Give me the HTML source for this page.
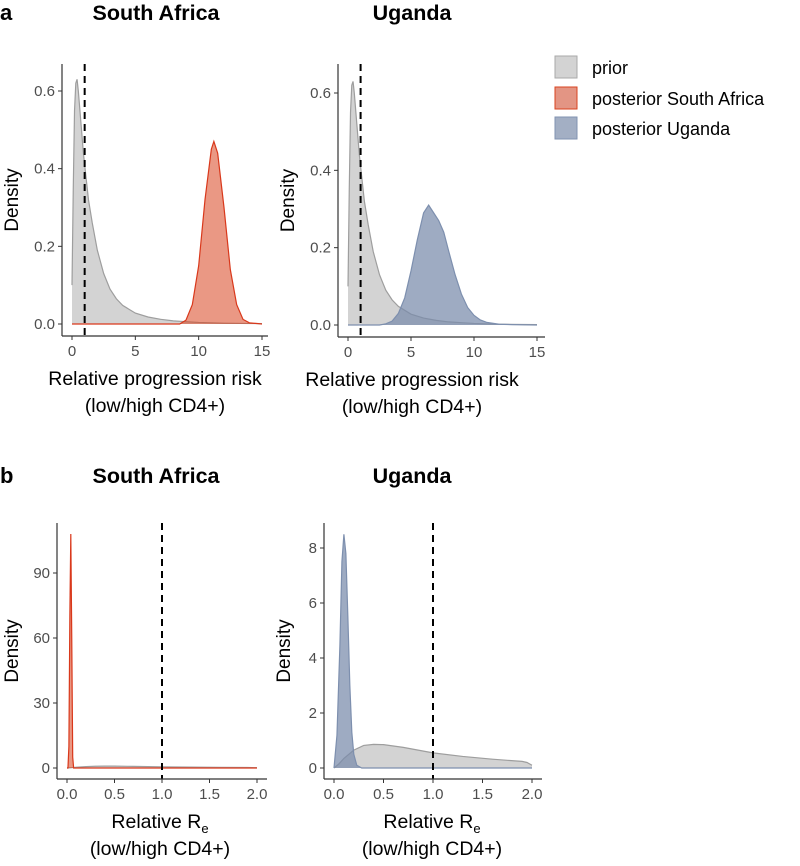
<!DOCTYPE html>
<html><head><meta charset="utf-8"><style>
body{margin:0;background:#fff;width:800px;height:861px;overflow:hidden;font-family:"Liberation Sans",Arial,sans-serif}
svg text{font-family:"Liberation Sans",Arial,sans-serif}
</style></head><body>
<svg id="fig" width="800" height="861" viewBox="0 0 800 861" xmlns="http://www.w3.org/2000/svg">
<text x="0" y="20" font-size="22" font-weight="bold">a</text>
<text x="0" y="483" font-size="22" font-weight="bold">b</text>
<g>
<rect x="555" y="56" width="22" height="22" fill="#d3d3d3" stroke="#aaa"/>
<text x="592" y="74" font-size="18">prior</text>
<rect x="555" y="87" width="22" height="22" fill="#e39584" stroke="#d9431f"/>
<text x="592" y="105" font-size="18">posterior South Africa</text>
<rect x="555" y="117" width="22" height="22" fill="#a3afc4" stroke="#8193b2"/>
<text x="592" y="135" font-size="18">posterior Uganda</text>
</g>
</svg>
<script>
// top panels: relative progression risk
const priorRiskX=[0,0.1,0.2,0.3,0.4,0.5,0.7,0.9,1.1,1.3,1.6,2,2.5,3,3.5,4,5,6,7,8,9,10,12,15];
const priorRiskY=[0.1,0.35,0.55,0.62,0.63,0.6,0.52,0.44,0.38,0.32,0.26,0.19,0.13,0.09,0.065,0.048,0.028,0.018,0.012,0.008,0.006,0.004,0.002,0.001];
const saRiskX=[0,8.5,9,9.5,10,10.5,11,11.2,11.5,12,12.5,13,13.5,14,15];
const saRiskY=[0,0,0.01,0.05,0.15,0.32,0.45,0.47,0.44,0.3,0.14,0.05,0.012,0.003,0];
const ugRiskX=[0,2.5,3,3.5,4,4.5,5,5.5,6,6.4,6.8,7.2,7.6,8,8.5,9,9.5,10,10.5,11,12,13,15];
const ugRiskY=[0,0,0.003,0.01,0.03,0.07,0.14,0.22,0.29,0.31,0.29,0.27,0.24,0.19,0.13,0.08,0.045,0.025,0.013,0.007,0.002,0.001,0];
const riskXTicks=[0,5,10,15];
const riskYTicks=[0,0.2,0.4,0.6];
const riskYLabels=["0.0","0.2","0.4","0.6"];
// bottom panels: relative Re
const priorReX=[0,0.05,0.1,0.2,0.3,0.4,0.5,0.7,1.0,1.3,1.6,1.9,1.95,2.0];
const priorReY=[0,0.15,0.35,0.65,0.82,0.86,0.85,0.75,0.55,0.42,0.32,0.24,0.2,0.1];
const saReX=[0,0.01,0.02,0.03,0.04,0.05,0.06,0.07,2.0];
const saReY=[0,0,10,70,108,60,5,0,0];
const ugReX=[0,0.03,0.06,0.08,0.1,0.12,0.14,0.16,0.18,0.2,0.23,0.28,2.0];
const ugReY=[0,1.2,4.5,7.5,8.5,7.8,5.5,3,1.3,0.5,0.1,0,0];
const reXTicks=[0,0.5,1,1.5,2];
const reXLabels=["0.0","0.5","1.0","1.5","2.0"];
const saReYTicks=[0,30,60,90];
const ugReYTicks=[0,2,4,6,8];

const svg=document.getElementById('fig');
const NS='http://www.w3.org/2000/svg';
function mk(tag,attrs,parent){const e=document.createElementNS(NS,tag);for(const k in attrs)e.setAttribute(k,attrs[k]);(parent||svg).appendChild(e);return e;}

const PRIOR={fill:'#d3d3d3',stroke:'#9e9e9e'};
const SA={fill:'rgba(217,67,31,0.55)',stroke:'#d9381b'};
const UG={fill:'rgba(120,138,170,0.72)',stroke:'#7d8fae'};

function panel(o){
  const g=mk('g',{});
  
  
  const sx=v=>o.x0+(v-o.d0)*(o.x1-o.x0)/(o.d1-o.d0);
  const sy=v=>o.y0-(v-o.v0)*(o.y0-o.y1)/(o.v1-o.v0);
  o.series.forEach(s=>{
    let d='M'+sx(s.x[0])+','+sy(0);
    s.x.forEach((xv,i)=>{d+=' L'+sx(xv).toFixed(2)+','+sy(s.y[i]).toFixed(2);});
    d+=' L'+sx(s.x[s.x.length-1])+','+sy(0)+' Z';
    const a=mk('path',{d:d,fill:s.st.fill,stroke:'none'},g);
    
    
    let l='';
    s.x.forEach((xv,i)=>{l+=(i?' L':'M')+sx(xv).toFixed(2)+','+sy(s.y[i]).toFixed(2);});
    const ln=mk('path',{d:l,fill:'none',stroke:s.st.stroke,'stroke-width':1.2},g);
    
    
  });
  const dl=mk('line',{x1:sx(1),x2:sx(1),y1:o.top,y2:o.axY,stroke:'#000','stroke-width':2,'stroke-dasharray':'7,5'},g);
  
  
  const ya=mk('line',{x1:o.axX,x2:o.axX,y1:o.top,y2:o.axY,stroke:'#333','stroke-width':1.2},g);
  
  
  const xa=mk('line',{x1:o.axX,x2:o.right,y1:o.axY,y2:o.axY,stroke:'#333','stroke-width':1.2},g);
  
  
  o.xt.forEach((t,i)=>{
    mk('line',{x1:sx(t),x2:sx(t),y1:o.axY,y2:o.axY+4,stroke:'#333'},g);
    const tx=mk('text',{x:sx(t),y:o.axY+20,'font-size':15,fill:'#4d4d4d','text-anchor':'middle'},g);
    tx.textContent=o.xl[i];
    
    
  });
  o.yt.forEach((t,i)=>{
    mk('line',{x1:o.axX-4,x2:o.axX,y1:sy(t),y2:sy(t),stroke:'#333'},g);
    const tx=mk('text',{x:o.axX-7,y:sy(t)+5,'font-size':15,fill:'#4d4d4d','text-anchor':'end'},g);
    tx.textContent=o.yl[i];
    
    
  });
  const yt=mk('text',{x:0,y:0,'font-size':19,'text-anchor':'middle',transform:'translate('+(o.densX)+','+((o.top+o.axY)/2)+') rotate(-90)'},g);
  yt.textContent='Density';
  
  
  const cx=o.titleCx;
  const t1=mk('text',{x:cx,y:o.axY+49,'font-size':19.5,'text-anchor':'middle'},g);
  if(o.re){t1.innerHTML='Relative R<tspan font-size="13" dy="5">e</tspan>';}else t1.textContent='Relative progression risk';
  
  
  const t2=mk('text',{x:cx,y:o.axY+76,'font-size':19.5,'text-anchor':'middle'},g);
  t2.textContent='(low/high CD4+)';
  
  
  const ti=mk('text',{x:o.titleX,y:o.titleY,'font-size':21.5,'font-weight':'bold','text-anchor':'middle'},g);
  ti.textContent=o.title;
  
  
}
const rl=riskXTicks.map(String);
panel({name:'panel-a-south-africa',title:'South Africa',titleX:156,titleY:20,titleCx:155,densX:18,axX:62,right:268,top:64,axY:336,x0:72,x1:262,d0:0,d1:15,y0:324,y1:91,v0:0,v1:0.6,
 xt:riskXTicks,xl:rl,yt:riskYTicks,yl:riskYLabels,
 series:[{name:'prior',x:priorRiskX,y:priorRiskY,st:PRIOR},{name:'posterior-south-africa',x:saRiskX,y:saRiskY,st:SA}]});
panel({name:'panel-a-uganda',title:'Uganda',titleX:412,titleY:20,titleCx:412,densX:294,axX:338,right:545,top:64,axY:337,x0:348,x1:537,d0:0,d1:15,y0:325,y1:93,v0:0,v1:0.6,
 xt:riskXTicks,xl:rl,yt:riskYTicks,yl:riskYLabels,
 series:[{name:'prior',x:priorRiskX,y:priorRiskY,st:PRIOR},{name:'posterior-uganda',x:ugRiskX,y:ugRiskY,st:UG}]});
panel({name:'panel-b-south-africa',title:'South Africa',titleX:156,titleY:483,titleCx:160,re:true,densX:18,axX:57,right:267,top:523,axY:779,x0:67,x1:257,d0:0,d1:2,y0:768,y1:703,v0:0,v1:30,
 xt:reXTicks,xl:reXLabels,yt:saReYTicks,yl:saReYTicks.map(String),
 series:[{name:'prior',x:priorReX,y:priorReY,st:PRIOR},{name:'posterior-south-africa',x:saReX,y:saReY,st:SA}]});
panel({name:'panel-b-uganda',title:'Uganda',titleX:412,titleY:483,titleCx:432,re:true,densX:290,axX:324,right:542,top:523,axY:779,x0:334,x1:532,d0:0,d1:2,y0:768,y1:713,v0:0,v1:2,
 xt:reXTicks,xl:reXLabels,yt:ugReYTicks,yl:ugReYTicks.map(String),
 series:[{name:'prior',x:priorReX,y:priorReY,st:PRIOR},{name:'posterior-uganda',x:ugReX,y:ugReY,st:UG}]});
</script>
</body></html>
